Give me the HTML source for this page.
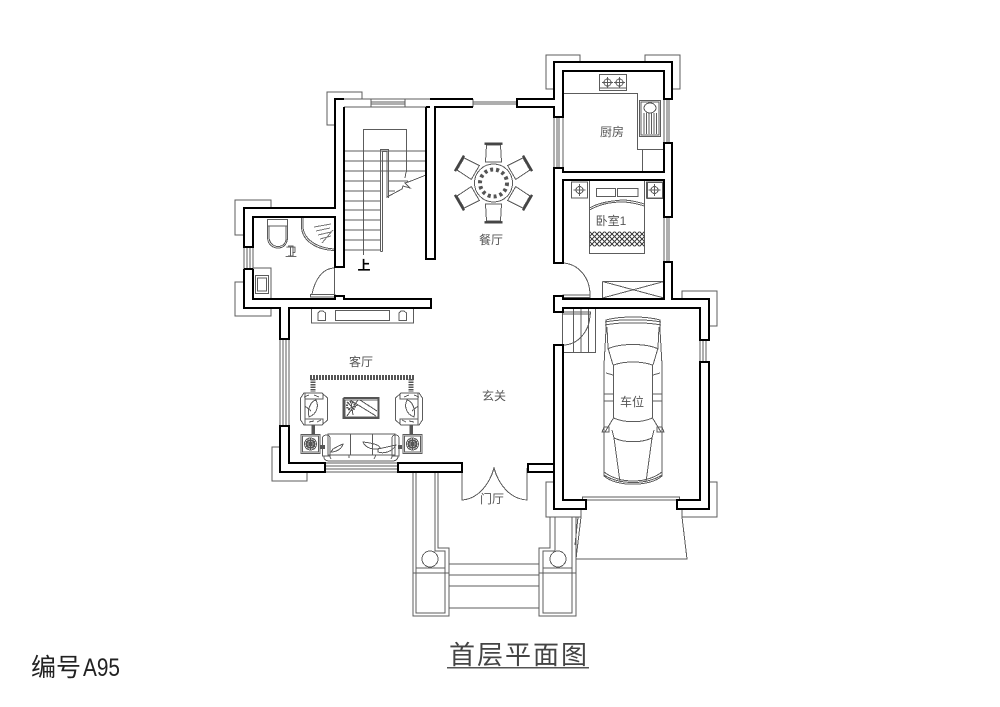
<!DOCTYPE html>
<html><head><meta charset="utf-8">
<style>
html,body{margin:0;padding:0;background:#fff;width:1000px;height:707px;overflow:hidden}
svg{display:block}
.g{fill:none;stroke:#5c5c5c;stroke-width:1;shape-rendering:crispEdges}
.w{fill:none;stroke:#000;stroke-width:2.2;stroke-linejoin:miter;shape-rendering:crispEdges}
.t{font-family:"Liberation Sans","WenQuanYi Zen Hei","Noto Sans CJK SC",sans-serif;fill:#555;font-size:12px;text-anchor:middle}
</style></head><body>
<svg width="1000" height="707" viewBox="0 0 1000 707" xmlns="http://www.w3.org/2000/svg">
<defs>
<g id="chair"><path class="g" d="M-8 -21 L-7 -38 H7 L8 -21 Z"/><rect x="-9" y="-40.5" width="18" height="2.4" fill="#444"/></g>
<g id="nt"><rect class="g" x="-8" y="-8" width="16" height="16"/><circle class="g" cx="0" cy="0" r="3.5"/><path class="g" d="M-6 0H6M0 -6V6"/></g>
<g id="arm"><path class="g" d="M-10 -16 H8 L13.5 -11 V11 L8 16 H-10 L-13.5 11 V-11 Z"/><path class="g" d="M-9 -16 V-10 H9 V-15 M-9 16 V10 H9 V15 M-9 -10 V10"/><path class="g" d="M-5 8 C-7 0 -3 -8 2 -9 C5 -3 3 5 -5 8Z M-9 -3 L-3 2 M-10 -12 L-5 -14 M0 -14 L5 -12 M-5 13 L0 12 M3 13 L7 11"/></g>
<g id="side"><rect class="g" x="-9.5" y="-9.5" width="19" height="19"/><rect class="g" x="-8" y="-8" width="16" height="16"/><circle class="g" cx="0" cy="0" r="6"/><path d="M-5 -3L5 3M-5 3L5 -3M0 -6V6M-6 0H6M-3 -5L3 5M3 -5L-3 5" stroke="#555" fill="none" shape-rendering="crispEdges"/></g>
<pattern id="hatch" x="589.500" y="231.500" width="5" height="5" patternUnits="userSpaceOnUse"><path d="M0 0L5 5M5 0L0 5" stroke="#444" stroke-width="1" fill="none" shape-rendering="crispEdges"/></pattern>
</defs>

<!-- gray corner brackets -->
<g class="g">
<path d="M335 125H327V92H362V99"/>
<path d="M244 235H235V200H271V208"/>
<path d="M244 282H235V316H271V308"/>
<path d="M554 89H546V55H580V62"/>
<path d="M645 62V55H680V89H672"/>
<path d="M682 299V291H717V326H709"/>
<path d="M280 447H272V481H307V472"/>
<path d="M554 482H546V517H581V509"/>
<path d="M709 482H717V517H682V509"/>
<!-- garage apron -->
<path d="M581 517L576 559H687L682 517"/>
<path d="M578 517L575 545"/>
<rect x="582.5" y="497" width="97" height="3"/>
<!-- front steps -->
<path d="M413 472V616H449V548H438V472"/>
<path d="M416 472V613H445V551H435V472"/>
<path d="M413 573H449M416 568H445"/>
<path d="M449 564H539M449 575H539M449 586H539M449 608H539"/>
<path d="M550 517V548H539V616H576V517"/>
<path d="M555 517V551H543V613H572V517"/>
<path d="M539 573H576M543 568H572"/>
<circle cx="430" cy="559" r="8"/>
<circle cx="558" cy="559" r="8"/>
<!-- front door -->
<path d="M462 472V500C477 499 489 486 494 468C499 486 511 499 527 500V468"/>
<!-- windows -->
<path d="M335 99H430M344 107H426"/>
<rect x="371" y="99" width="34" height="8"/><path d="M371 102H405M371 104H405"/>
<path d="M473 99V107M517 99V107M473 102H517M473 104H517"/>
<path d="M554 117H563M554 168H563M554 117V168M557 117V168M559 117V168M563 117V168"/>
<path d="M664 99H672M664 143H672M664 99V143M667 99V143M669 99V143"/>
<path d="M664 217H672M664 262H672M664 217V262M667 217V262M669 217V262"/>
<path d="M700 340H709M700 362H709M700 340V362M703 340V362M706 340V362"/>
<path d="M244 247V269M253 247V269M247 247V269M250 247V269"/>
<path d="M280 339V426M289 339V426M283 339V426M286 339V426"/>
<path d="M325 463H398M325 472H398M325 466H398M325 469H398"/>
<!-- stairs -->
<path d="M344 151H426M344 161H426M344 171H426"/>
<path d="M344 181H380M344 191H380M344 201H380M344 210H380M344 220H380M344 230H380M344 240H380M344 250H380"/>
<path d="M388 181H408M388 191H395"/>
<path d="M363.500 255V129.500H406.500V172"/>
<path d="M380.500 251.500V149.500H388.500V198M382.500 251.500V151.500H387V198M380.500 251.500H382.500"/>
<path d="M387 197L402 189L403 186L410 188L405 183L411 181L426 175"/>
<path d="M406 172L405 178"/>
<!-- bath -->
<rect x="267.500" y="219.500" width="20" height="6.500"/>
<path d="M267.500 226V238C268 245 273 248 278 248C283 248 287 245 287.500 238V226"/>
<path d="M269 226V238C270 244 274 246.500 278 246.500C282 246.500 286 244 286 238V226"/>
<path d="M288 246H293V256H288M293 246V256"/>
<path d="M301.500 217V227C302 240 315 250 335 250.500"/>
<path d="M303 217V227C304 239 316 248 335 249"/>
<path d="M335 217V251"/>
<path d="M314 227L331 224M316 231L330 228M318 235L331 232M320 239L331 236M322 243L333 230" stroke="#777"/>
<path d="M253 268H271V299"/>
<rect x="255.500" y="275.500" width="13" height="18"/><rect x="257.500" y="278" width="9" height="13"/>
<path d="M334.500 267V296"/>
<path d="M335 268C322 268 315 280 312 294"/>
<rect x="310.500" y="294.500" width="24.500" height="2.500"/>
<!-- TV wall -->
<rect x="311.500" y="308" width="102" height="15"/>
<rect x="335.500" y="310.500" width="54" height="10"/>
<path d="M318 320.500V313L320 311H323L325.500 313V320.500ZM399 320.500V313L401 311H404L406.500 313V320.500Z"/>
<!-- living -->
<use href="#arm" x="314" y="409"/>
<use href="#arm" transform="translate(409 409) scale(-1 1)"/>
<use href="#side" x="310.500" y="444"/>
<use href="#side" x="412.500" y="444"/>
<rect x="345" y="400" width="33" height="17"/>
<path d="M347 416L358 400M350 400L376 416M360 400L377 411M354 409L347 402M348 409L358 405M351 402L353 415" stroke="#555"/>
<!-- sofa -->
<path d="M328 434H395V455H328Z M350.500 434V455M372.500 434V455"/>
<path d="M322.500 438C323 434 330 434 330 438V456H322.500ZM392 438C392 434 399 434 399 438V456H392Z"/>
<path d="M324 456V458Q325 461 330 461H392Q398 461 398 456"/>
<path d="M333 449C338 446 343 444 343 444C342 449 336 452 331 452Z"/>
<path d="M363 442C372 443 380 445 380 448C375 451 365 448 363 442ZM378 449L396 445C392 452 384 454 378 452Z"/>
<path d="M329 455L331 459M349 455V458M376 455L374 459M393 455L391 459"/>
<!-- kitchen -->
<rect x="599.500" y="74.500" width="27" height="16"/>
<path d="M600 88H626"/>
<circle cx="607.500" cy="82.500" r="3.500"/><circle cx="619.500" cy="82.500" r="3.500"/>
<path d="M602 82.500H613M607.500 77V88M614 82.500H625M619.500 77V88"/>
<path d="M563 93.500H637.500V149.500H664"/>
<rect x="642.500" y="149.500" width="21.500" height="22"/>
<rect x="639.500" y="100.500" width="21" height="36"/>
<rect x="641" y="102" width="18" height="33"/>
<ellipse cx="650" cy="108" rx="6" ry="5"/>
<path d="M644 113V134M646.500 113V134M649 113V134M651.500 113V134M654 113V134M656.500 113V134"/>
<!-- bedroom -->
<rect x="589.500" y="180.500" width="55" height="73"/>
<rect x="596.500" y="188.500" width="19" height="8"/>
<rect x="617.500" y="188.500" width="20.500" height="8"/>
<path d="M589.500 210C600 204 612 202 622 202C630 202 638 204 644.500 206"/>
<path d="M589.500 208C600 202 612 201 622 200C630 200 638 202 644.500 204"/>
<path d="M602.500 281.500H664M602.500 281.500V298M602.500 281.500L664 298M602.500 298L664 281.500"/>
<use href="#nt" x="579.500" y="190"/>
<use href="#nt" x="654.500" y="190"/>
<rect x="647" y="182" width="16" height="16" stroke-width="1.500"/>
<!-- bedroom door -->
<path d="M563 263C579 264 590 278 590 295"/>
<rect x="563" y="295" width="27" height="2.500"/>
<!-- garage stair & door -->
<rect x="562.500" y="308" width="33" height="44.500"/>
<path d="M573.500 308V352M581 308V352M588.500 308V352"/>
<rect x="562.500" y="312" width="28" height="2"/>
<path d="M590 314C590 331 578 345 563 345"/>
<!-- car -->
<path d="M606 320C620 316 646 316 660 320V330L662 365L662 425L662 476C650 487 616 487 604 476L604 425L604 365L606 330Z"/>
<path d="M605 322C620 319 646 319 661 322M605 325C620 322 646 322 661 325"/>
<path d="M607 327L608 348L613 365M659 327L658 348L653 365"/>
<path d="M607.500 349C620 343 646 343 658.500 349"/>
<path d="M613.500 365C625 361 641 361 652.500 365V418C641 423 625 423 613.500 418Z"/>
<path d="M613.500 418L605 432M652.500 418L661 432"/>
<path d="M612 430L614 438C625 443 641 443 652 438L654 430"/>
<path d="M614 438L620 482M652 438L646 482"/>
<path d="M604 472C620 484 646 484 662 472M604 475C620 485 646 485 662 475"/>
<path d="M606 373L613 375M660 373L653 375M604 394H613M653 394H662M604 401H613M653 401H662"/>
<path d="M602 432H609V427H604ZM664 432H657V427H662Z"/>
</g>

<!-- rug -->
<g fill="none" stroke="#555" shape-rendering="crispEdges">
<path d="M310 377.500H414" stroke-width="5" stroke-dasharray="2 1"/>
<path d="M313 379V392M411 379V392" stroke-width="5" stroke-dasharray="1.500 1"/>
<path d="M313 425V434M411 425V434" stroke-width="3.500"/>
<path d="M320 447H325M398 447H402" stroke-width="4"/>
<path d="M343.500 398V418H378.500V398H343.500" stroke-width="2"/>
<circle cx="351" cy="406" r="4" stroke-width="2" stroke-dasharray="1.500 1"/>
<circle cx="310.500" cy="444" r="4" stroke-width="1.500"/>
<circle cx="412.500" cy="444" r="4" stroke-width="1.500"/>
</g>
<rect x="589.500" y="231.500" width="55" height="15" fill="url(#hatch)"/>

<!-- dining -->
<g transform="translate(493.500 183)">
<circle class="g" r="19"/>
<circle r="13.500" fill="none" stroke="#555" stroke-width="4" stroke-dasharray="3 3"/>
<use href="#chair"/>
<use href="#chair" transform="rotate(60)"/>
<use href="#chair" transform="rotate(120)"/>
<use href="#chair" transform="rotate(180)"/>
<use href="#chair" transform="rotate(240)"/>
<use href="#chair" transform="rotate(300)"/>
</g>

<!-- walls -->
<g class="w">
<path d="M344 107V267H335V217H253V247H244V208H335V99H344"/>
<path d="M244 247H253M244 269H253"/>
<path d="M244 269V308H280V339H289V308H431V299H344V296H335V299H253V269"/>
<path d="M426 107V259H435V107H473M430 99H473M426 107H430"/>
<path d="M517 99H554V62H672V99H664V71H563V117H554V107H517Z"/>
<path d="M554 168H563V172H664V143H672V217H664V180H563V263H554Z"/>
<path d="M664 262H672V299H709V340H700V308H563V312H554V296H563V299H664Z"/>
<path d="M700 362H709V509H677V500H700Z"/>
<path d="M563 345H554V509H586V500H563Z"/>
<path d="M280 426H289V463H325V472H280Z"/>
<path d="M398 463H462V472H398Z"/>
<path d="M528 464H554V472H528Z"/>
</g>

<!-- labels -->
<text class="t" x="291" y="256" font-size="12">卫</text>
<text x="364" y="270" font-family="'Liberation Sans','Noto Sans CJK SC',sans-serif" font-size="13" font-weight="700" fill="#000" text-anchor="middle">上</text>
<text class="t" x="612" y="136">厨房</text>
<text class="t" x="611" y="225">卧室1</text>
<text class="t" x="491" y="244">餐厅</text>
<text class="t" x="361" y="366">客厅</text>
<text class="t" x="494" y="400">玄关</text>
<text class="t" x="632" y="406">车位</text>
<text class="t" x="492" y="503">门厅</text>

<text x="449" y="664" font-family="'Liberation Sans','WenQuanYi Zen Hei','Noto Sans CJK SC',sans-serif" font-size="26" fill="#444" letter-spacing="2">首层平面图</text>
<rect x="447" y="667" width="142" height="1.500" fill="#555"/>
<text x="31" y="676" font-family="'Liberation Sans','Noto Sans CJK SC',sans-serif" font-size="25" fill="#222">编号</text>
<text x="83" y="676" font-family="'Liberation Sans',sans-serif" font-size="25" fill="#222" textLength="37" lengthAdjust="spacingAndGlyphs">A95</text>
</svg>
</body></html>
